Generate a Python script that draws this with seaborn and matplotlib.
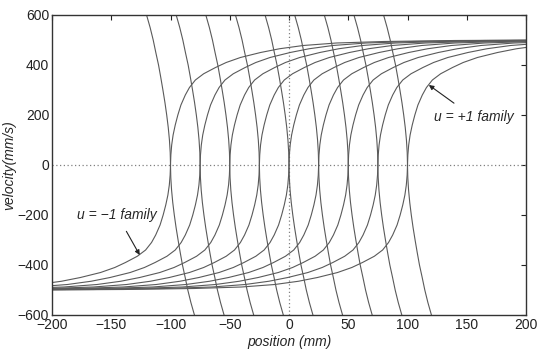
import numpy as np
import pandas as pd
import matplotlib
matplotlib.use("Agg")
import matplotlib.pyplot as plt
import seaborn as sns

sns.set_style("white")
plt.rcParams["font.family"] = ["Liberation Sans", "DejaVu Sans"]

# zero-velocity crossing positions of the trajectories (mm)
crossings = [-100, -75, -50, -25, 0, 25, 50, 75, 100]

# long branch: speed vs. distance from the crossing
long_speed = [0, 40, 80, 120, 160, 200, 240, 280, 310, 340, 365, 390, 410,
              430, 450, 465, 478, 488, 494, 498, 500]
long_dist = [0, 0.3, 1.0, 2.2, 4.0, 6.2, 8.8, 12.5, 16, 21, 28, 38, 47,
             59, 76, 92, 112, 140, 180, 240, 320]

# steep branch
steep_speed = [0, 50, 100, 150, 200, 250, 300, 350, 400, 450, 500, 550, 600, 650]
steep_dist = [0, 0.25, 0.9, 1.9, 3.2, 4.7, 6.4, 8.2, 10.1, 12.4, 14.6, 17.2, 20.2, 23.3]

# build the curves as a long table
rows = []
for i, x0 in enumerate(crossings):
    # S-shaped curve: u = -1 half (below) joined to u = +1 half (above)
    for s, d in zip(long_speed[::-1], long_dist[::-1]):
        rows.append((f"s{i}", x0 - d, -s))
    for s, d in zip(long_speed[1:], long_dist[1:]):
        rows.append((f"s{i}", x0 + d, s))
    # steep curve through the same crossing
    for s, d in zip(steep_speed[::-1], steep_dist[::-1]):
        rows.append((f"t{i}", x0 - d, s))
    for s, d in zip(steep_speed[1:], steep_dist[1:]):
        rows.append((f"t{i}", x0 + d, -s))
df = pd.DataFrame(rows, columns=["curve", "position", "velocity"])

fig = plt.figure(figsize=(5.37, 3.53), dpi=100)
ax = fig.add_axes([52 / 537, 38 / 353, 474 / 537, 300 / 353])

ax.axhline(0, color="#808080", ls=(0, (1, 2)), lw=0.9, zorder=1)
ax.axvline(0, color="#808080", ls=(0, (1, 2)), lw=0.9, zorder=1)

sns.lineplot(data=df, x="position", y="velocity", units="curve",
             estimator=None, sort=False, color="#5a5a5a", lw=0.8, ax=ax,
             legend=False)

ax.set_xlim(-200, 200)
ax.set_ylim(-600, 600)
ax.set_xticks(np.arange(-200, 201, 50))
ax.set_yticks(np.arange(-600, 601, 200))
ax.tick_params(direction="in", length=3.5, width=0.8, labelsize=10,
               top=True, right=True, colors="#222222", pad=2)
for sp in ax.spines.values():
    sp.set_color("#333333")
    sp.set_linewidth(1.0)

ax.set_xlabel("position (mm)", style="italic", fontsize=10, labelpad=2)
ax.set_ylabel("velocity(mm/s)", style="italic", fontsize=10, labelpad=1)

arrow = dict(arrowstyle="-|>", mutation_scale=7, color="#222222", lw=0.8,
             shrinkA=5, shrinkB=0)
ax.annotate("u = +1 family", xy=(118, 320), xytext=(156, 190),
            ha="center", va="center", style="italic", fontsize=10,
            arrowprops=arrow)
ax.annotate("u = \u22121 family", xy=(-126, -360), xytext=(-145, -200),
            ha="center", va="center", style="italic", fontsize=10,
            arrowprops=arrow)

fig.savefig("out.png", dpi=100)
